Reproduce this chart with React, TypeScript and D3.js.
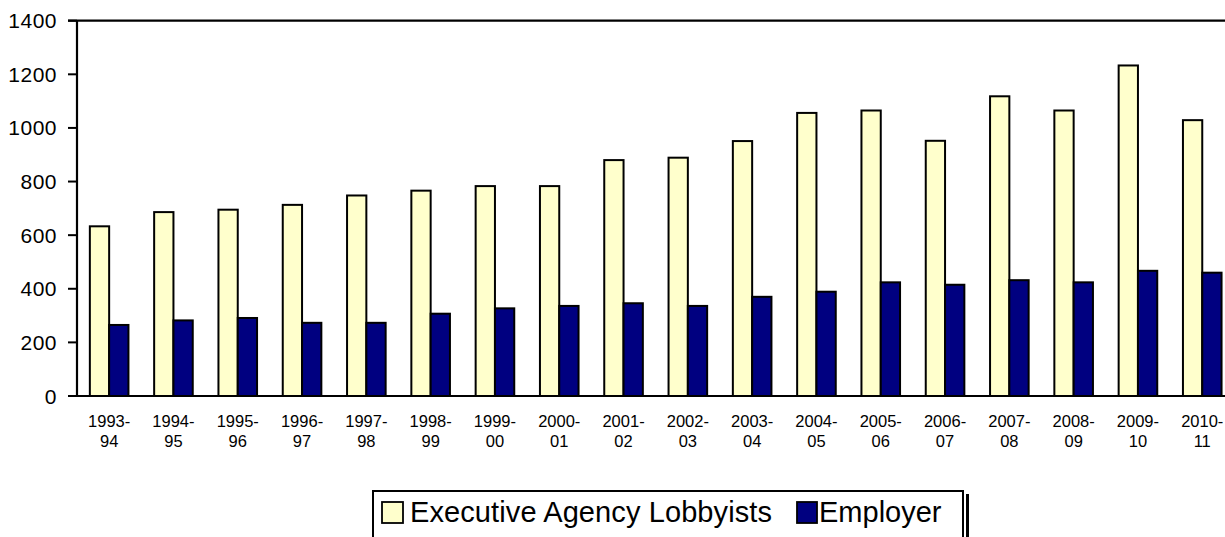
import React from "react";
import * as d3 from "d3";

const categories = [
  "1993-94", "1994-95", "1995-96", "1996-97", "1997-98", "1998-99", "1999-00",
  "2000-01", "2001-02", "2002-03", "2003-04", "2004-05", "2005-06", "2006-07",
  "2007-08", "2008-09", "2009-10", "2010-11",
];
const seriesNames = ["Executive Agency Lobbyists", "Employer"];
const execValues = [633, 686, 695, 713, 748, 766, 783, 783, 880, 889, 951, 1056, 1065, 952, 1118, 1065, 1233, 1029];
const employerValues = [265, 282, 291, 273, 273, 307, 327, 336, 346, 336, 370, 389, 424, 415, 432, 424, 467, 460];
const yTicks = [0, 200, 400, 600, 800, 1000, 1200, 1400];
const colors = ["#FFFFCC", "#000080"];

const W = 1225;
const H = 537;
const FONT = "'Liberation Sans', Arial, sans-serif";

export default function App() {
  const left = 77;
  const step = 64.3;
  const top = 20.7;
  const bottom = 396;

  const x = d3.scaleBand<string>().domain(categories).range([left, left + step * categories.length]).padding(0);
  const inner = d3.scaleBand<string>().domain(seriesNames).range([0, x.bandwidth()]).paddingInner(0).paddingOuter(0.666);
  const y = d3.scaleLinear().domain([0, 1400]).range([bottom, top]);

  const series = [execValues, employerValues];

  return (
    <svg width={W} height={H} style={{ position: "absolute", left: 0, top: 0, background: "#fff" }} fontFamily={FONT}>
      {/* bars */}
      {categories.map((c, i) => (
        <g key={c}>
          {seriesNames.map((s, si) => {
            const v = series[si][i];
            const bx = (x(c) as number) + (inner(s) as number);
            return (
              <rect
                key={s}
                x={bx}
                y={y(v)}
                width={inner.bandwidth()}
                height={y(0) - y(v)}
                fill={colors[si]}
                stroke="#000"
                strokeWidth={2}
              />
            );
          })}
        </g>
      ))}
      {/* top border */}
      <line x1={68} x2={W} y1={y(1400)} y2={y(1400)} stroke="#000" strokeWidth={2.2} />
      {/* zero line */}
      <line x1={68} x2={W} y1={y(0)} y2={y(0)} stroke="#000" strokeWidth={2} />
      {/* y axis */}
      <line x1={left} x2={left} y1={y(1400)} y2={y(0)} stroke="#000" strokeWidth={2.2} />
      {yTicks.map((t) => (
        <g key={t}>
          <line x1={68} x2={left} y1={y(t)} y2={y(t)} stroke="#000" strokeWidth={2} />
          <text x={57} y={y(t)} dy="0.36em" textAnchor="end" fontSize={21} letterSpacing={0.5} fill="#000">
            {t}
          </text>
        </g>
      ))}
      {/* x labels */}
      {categories.map((c) => {
        const cx = (x(c) as number) + x.bandwidth() / 2;
        const [a, b] = c.split("-");
        return (
          <text key={c} x={cx} textAnchor="middle" fontSize={16.5} fill="#000">
            <tspan x={cx} y={426.7}>{a + "-"}</tspan>
            <tspan x={cx} y={446.7}>{b}</tspan>
          </text>
        );
      })}
      {/* legend */}
      <rect x={966} y={494} width={3} height={H - 494} fill="#000" />
      <rect x={373} y={491} width={590} height={H - 491 + 5} fill="#fff" stroke="#000" strokeWidth={2} />
      <rect x={382} y={502} width={21} height={21} fill={colors[0]} stroke="#000" strokeWidth={1.8} />
      <text x={410} y={522} fontSize={29} fill="#000" letterSpacing={0.1}>{seriesNames[0]}</text>
      <rect x={797} y={502} width={20} height={21} fill={colors[1]} stroke="#000" strokeWidth={1.8} />
      <text x={819} y={522} fontSize={29} fill="#000">{seriesNames[1]}</text>
    </svg>
  );
}
